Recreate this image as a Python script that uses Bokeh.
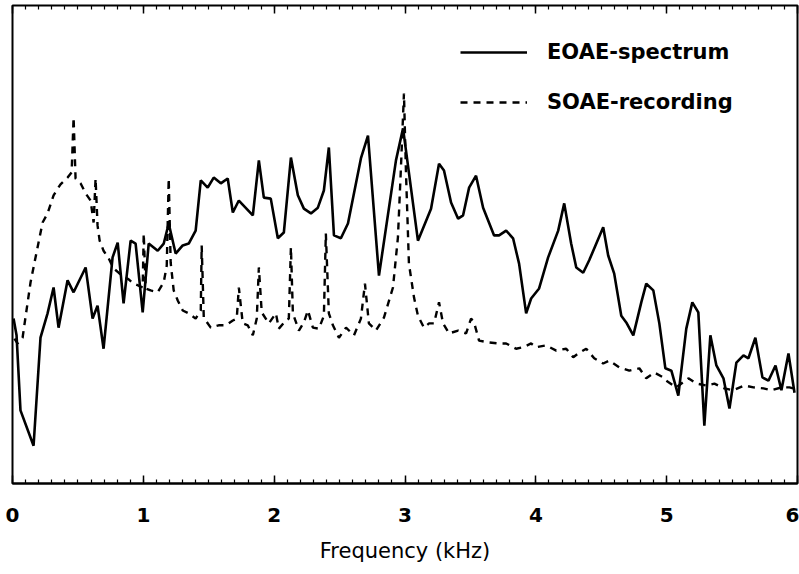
from bokeh.plotting import figure
from bokeh.models import (Legend, LegendItem, LinearAxis, Range1d,
                          SingleIntervalTicker, ColumnDataSource,
                          CustomJSTickFormatter)
from bokeh.embed import file_html
from bokeh.resources import INLINE

# ---- data (frequency in kHz, relative level) ----
eoae_freq = [0.008, 0.031, 0.061, 0.161, 0.214, 0.268, 0.314, 0.352, 0.421, 0.467,
             0.559, 0.612, 0.650, 0.696, 0.765, 0.804, 0.849, 0.903, 0.941, 0.995,
             1.041, 1.110, 1.156, 1.194, 1.247, 1.301, 1.347, 1.400, 1.439, 1.492,
             1.538, 1.592, 1.645, 1.684, 1.730, 1.837, 1.883, 1.921, 1.974, 2.028,
             2.074, 2.128, 2.181, 2.227, 2.281, 2.334, 2.380, 2.418, 2.457, 2.510,
             2.564, 2.663, 2.717, 2.801, 2.931, 2.985, 3.099, 3.199, 3.260, 3.298,
             3.352, 3.406, 3.444, 3.490, 3.543, 3.597, 3.681, 3.719, 3.773, 3.826,
             3.872, 3.926, 3.964, 4.025, 4.094, 4.171, 4.217, 4.270, 4.309, 4.362,
             4.408, 4.515, 4.553, 4.599, 4.653, 4.691, 4.745, 4.806, 4.844, 4.898,
             4.944, 4.990, 5.036, 5.089, 5.150, 5.196, 5.242, 5.288, 5.334, 5.380,
             5.434, 5.480, 5.533, 5.587, 5.625, 5.678, 5.732, 5.778, 5.832, 5.877,
             5.931, 5.977]
eoae_level = [34.5, 31.0, 15.3, 7.9, 30.5, 35.6, 41.0, 32.6, 42.5, 40.0,
              45.2, 34.5, 37.2, 28.2, 47.3, 50.4, 37.7, 50.8, 50.2, 35.8,
              50.2, 48.7, 50.2, 54.4, 48.1, 49.8, 50.2, 52.9, 63.4, 61.9,
              64.0, 62.8, 63.8, 56.7, 59.2, 56.1, 67.6, 59.8, 59.6, 51.3,
              52.5, 68.2, 60.3, 57.5, 56.5, 57.7, 61.3, 70.3, 51.9, 51.3,
              54.4, 68.0, 72.8, 43.5, 67.6, 74.3, 50.8, 57.5, 66.9, 65.5,
              58.8, 55.4, 56.1, 61.9, 64.4, 57.7, 51.9, 51.9, 52.9, 51.3,
              46.0, 35.6, 38.7, 40.8, 47.3, 52.9, 58.6, 50.2, 45.2, 44.1,
              46.7, 53.6, 47.7, 43.9, 35.1, 33.7, 31.0, 37.9, 41.8, 40.4,
              33.5, 24.1, 23.6, 18.4, 32.4, 37.9, 35.8, 12.1, 31.0, 24.7,
              22.0, 15.7, 25.3, 26.8, 26.2, 30.5, 22.2, 21.5, 24.7, 19.5,
              27.2, 19.0]

soae_freq = [0.015, 0.038, 0.077, 0.099, 0.138, 0.176, 0.230, 0.268, 0.314, 0.367,
             0.421, 0.452, 0.467, 0.482, 0.520, 0.559, 0.597, 0.620, 0.635, 0.650,
             0.666, 0.696, 0.735, 0.773, 0.811, 0.849, 0.888, 0.926, 0.964, 0.995,
             1.003, 1.018, 1.056, 1.110, 1.156, 1.179, 1.194, 1.209, 1.232, 1.263,
             1.301, 1.347, 1.400, 1.439, 1.446, 1.462, 1.515, 1.576, 1.630, 1.684,
             1.714, 1.730, 1.760, 1.798, 1.837, 1.867, 1.883, 1.905, 1.959, 2.013,
             2.036, 2.090, 2.112, 2.128, 2.143, 2.189, 2.227, 2.258, 2.296, 2.342,
             2.380, 2.395, 2.418, 2.449, 2.495, 2.549, 2.610, 2.663, 2.694, 2.724,
             2.778, 2.839, 2.908, 2.946, 2.969, 2.992, 3.007, 3.030, 3.069, 3.099,
             3.145, 3.184, 3.222, 3.260, 3.291, 3.337, 3.406, 3.467, 3.505, 3.528,
             3.566, 3.643, 3.712, 3.773, 3.849, 3.903, 3.964, 4.002, 4.079, 4.156,
             4.232, 4.286, 4.324, 4.385, 4.446, 4.515, 4.561, 4.638, 4.714, 4.791,
             4.844, 4.906, 4.974, 4.997, 5.074, 5.166, 5.227, 5.303, 5.365, 5.441,
             5.510, 5.594, 5.663, 5.740, 5.801, 5.877, 5.939, 5.992]
soae_level = [30.3, 29.3, 30.5, 34.7, 42.1, 47.3, 54.6, 56.5, 60.3, 62.6,
              64.0, 65.1, 76.6, 63.8, 62.8, 60.7, 59.2, 54.6, 63.8, 54.0,
              50.8, 48.7, 47.1, 45.0, 44.1, 43.3, 42.7, 41.8, 41.4, 41.0,
              52.3, 40.8, 40.4, 40.0, 42.1, 45.6, 63.8, 46.2, 40.4, 38.3,
              36.2, 35.6, 34.5, 36.2, 49.8, 34.7, 32.6, 33.1, 33.1, 34.1,
              34.5, 41.0, 33.5, 33.1, 31.0, 34.5, 45.2, 35.8, 33.5, 35.6,
              32.4, 34.1, 34.5, 49.4, 35.6, 32.0, 33.7, 36.2, 32.6, 32.4,
              35.1, 52.3, 35.6, 33.1, 30.5, 32.6, 31.0, 34.5, 41.8, 33.5,
              32.0, 34.7, 41.0, 51.5, 66.1, 81.6, 65.5, 46.0, 38.9, 35.1,
              32.6, 33.5, 33.5, 37.9, 33.5, 31.4, 32.0, 31.4, 34.5, 33.7,
              29.9, 29.5, 29.3, 29.3, 28.2, 28.5, 29.3, 28.5, 28.9, 27.8,
              28.2, 26.4, 27.2, 28.2, 26.2, 25.1, 25.7, 24.3, 23.6, 24.1,
              22.0, 23.2, 22.2, 21.5, 20.1, 22.0, 20.9, 20.5, 20.9, 19.9,
              19.5, 20.5, 20.1, 19.9, 19.5, 20.1, 20.1, 19.7]

series_labels = ["EOAE-spectrum", "SOAE-recording"]
x_label = "Frequency (kHz)"

p = figure(width=799, height=574, output_backend="svg", toolbar_location=None,
           x_range=Range1d(0, 6), y_range=Range1d(0, 100),
           y_axis_location=None,
           min_border_left=12, min_border_right=2, min_border_top=5,
           min_border_bottom=91)
p.grid.visible = False
p.background_fill_color = "white"
p.border_fill_color = "white"
p.outline_line_color = "black"
p.outline_line_width = 2

ticker = SingleIntervalTicker(interval=1, num_minor_ticks=10)
xa = p.xaxis[0]
xa.ticker = ticker
xa.axis_line_width = 2
xa.major_tick_in = 8
xa.major_tick_out = 0
xa.minor_tick_in = 4
xa.minor_tick_out = 0
xa.major_tick_line_width = 1.5
xa.minor_tick_line_width = 1.2
xa.major_label_text_font = "DejaVu Sans"
xa.major_label_text_font_style = "bold"
xa.major_label_text_font_size = "20px"
xa.major_label_text_color = "black"
xa.major_label_standoff = 24
xa.axis_label = x_label
xa.axis_label_text_font = "DejaVu Sans"
xa.axis_label_text_font_style = "normal"
xa.axis_label_text_font_size = "21px"
xa.axis_label_text_color = "black"
xa.axis_label_standoff = 14

top = LinearAxis(ticker=ticker, major_tick_in=8, major_tick_out=0,
                 minor_tick_in=4, minor_tick_out=0,
                 major_tick_line_width=1.5, minor_tick_line_width=1.2,
                 formatter=CustomJSTickFormatter(code="return '';"),
                 major_label_standoff=0, axis_line_color=None)
p.add_layout(top, "above")

eoae_src = ColumnDataSource(dict(x=eoae_freq, y=eoae_level))
soae_src = ColumnDataSource(dict(x=soae_freq, y=soae_level))

r2 = p.line("x", "y", source=soae_src, line_color="black", line_width=2.4,
            line_dash="7 6")
r1 = p.line("x", "y", source=eoae_src, line_color="black", line_width=2.6)

legend = Legend(items=[LegendItem(label=series_labels[0], renderers=[r1]),
                       LegendItem(label=series_labels[1], renderers=[r2])],
                location=(448, 366), padding=0, margin=0, spacing=20,
                glyph_width=67, glyph_height=30, label_height=30,
                label_standoff=20, label_text_font="DejaVu Sans",
                label_text_font_style="bold", label_text_font_size="21px",
                label_text_color="black",
                border_line_alpha=0, background_fill_alpha=0)
p.add_layout(legend)

open("out.html", "w").write(file_html(p, INLINE))
